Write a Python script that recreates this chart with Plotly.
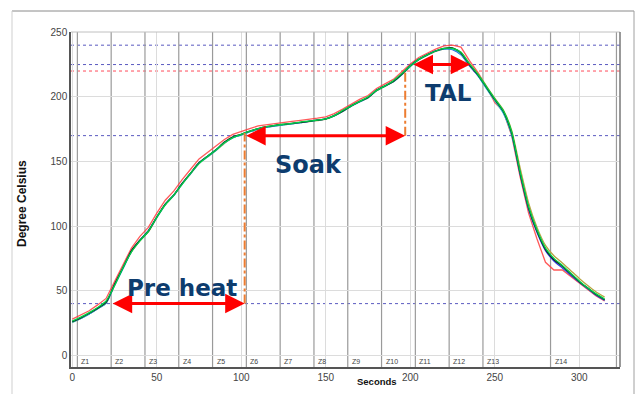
import plotly.graph_objects as go

# ---------------- data ----------------
seconds = [0, 5, 10, 15, 20, 25, 30, 35, 40, 45, 50, 55, 60, 65, 70, 75, 80, 85, 90, 95,
           100, 105, 110, 115, 120, 125, 130, 135, 140, 145, 150, 155, 160, 165, 170, 175,
           180, 185, 190, 195, 200, 205, 210, 215, 220, 225, 230, 235, 240, 245, 250, 255,
           260, 265, 270, 275, 280, 285, 290, 295, 300, 305, 310, 315]

tc_red = [28, 31, 34.5, 39, 44, 57, 70, 83, 92, 99, 110, 120, 127, 136, 144, 152, 157, 162, 167, 171,
          173.5, 175.5, 177.5, 178.5, 179.5, 180.3, 181, 181.8, 182.5, 183.5, 184.5, 187, 190.5, 194.5, 198, 201,
          206.5, 210, 213.5, 219.5, 225.5, 230.5, 234, 237, 239.5, 240, 238.5, 228, 219, 208, 195.5, 189,
          170, 138, 110, 90, 72, 66, 66, 61, 55.5, 50.5, 46, 42]
tc_olive = [25.5, 28.5, 32, 36, 40.5, 54, 67.5, 80, 88.5, 95.5, 106.5, 116.5, 123.5, 132.5, 140.5, 148.5, 153.5, 158.5, 164, 168.5,
            170.5, 173, 175, 176.5, 177.5, 178.3, 179.2, 180, 180.8, 181.7, 182.7, 185.2, 188.7, 192.7, 196.2, 199.2,
            204.7, 208.2, 211.7, 217.2, 223.5, 228.7, 232.2, 235.2, 237.2, 237.5, 234.5, 226, 218, 208.5, 199, 190,
            174, 145, 118, 99, 85, 77, 71.5, 65.5, 59.5, 54, 49, 45]
tc_blue = [26, 28.5, 32, 36, 40.5, 54.5, 67.5, 80.5, 89, 96.5, 107, 117, 124, 133, 141, 149, 154, 159, 164.5, 168.5,
           170.5, 173, 175, 176.5, 177.5, 178.5, 179.3, 180, 181, 182, 183, 185.5, 189, 193, 196, 199.5,
           205, 208.5, 212, 217.5, 224, 229, 232.5, 235.5, 237, 236.5, 232.5, 224, 216.5, 207, 197.5, 188,
           171, 140, 113, 95, 81, 73, 67.5, 62, 56.5, 51.5, 46.5, 42.5]
tc_cyan = [25.5, 28.5, 32, 36, 40.5, 54, 67, 80.5, 89, 96, 106.5, 116.5, 123.5, 132.5, 140.5, 148.5, 153.5, 158.5, 164.5, 168.5,
           170.5, 173, 175, 176.5, 177.5, 178.3, 179.2, 180, 181, 182, 183, 185.2, 188.8, 192.8, 196.2, 199.3,
           204.8, 208.3, 211.8, 217.2, 223.5, 228.8, 232.3, 235.3, 237.2, 237, 233, 224.5, 216.5, 206.5, 197, 187.5,
           170.5, 141, 114.5, 96.5, 82.5, 74.5, 69, 63, 57, 52, 47, 43]
tc_black = [26, 29, 32.5, 36.5, 41, 55, 68, 81, 89, 96, 107, 117, 124, 133, 141, 149, 154, 159, 165, 169,
            171, 173.5, 175.5, 177, 178, 178.7, 179.5, 180.3, 181, 182, 183, 185.5, 189, 193, 196.5, 199.5,
            205, 208.5, 212, 217.5, 224, 229, 232.5, 235.5, 237.5, 238, 234, 225, 217, 207.5, 198, 189,
            172, 141, 114, 96, 82, 74, 69, 63, 57, 52, 47, 43]
tc_green = [26.5, 29.5, 33, 37, 42, 54, 68, 80, 88.5, 96, 107, 116.5, 124, 132.5, 141, 148.5, 154, 159, 164.5, 168.5,
            171, 173.5, 175.5, 177, 178, 178.8, 179.5, 180.5, 181.2, 182, 183, 185.5, 189.5, 193, 196.5, 200,
            205, 208.5, 212.5, 218, 224, 229, 232.5, 235.5, 237.5, 237.5, 234.5, 225.5, 217.5, 208, 198.5, 189.5,
            173, 142, 115, 97, 83, 75, 69.5, 63.5, 57.5, 52, 47.5, 43.5]

zone_names = ["Z1", "Z2", "Z3", "Z4", "Z5", "Z6", "Z7", "Z8", "Z9", "Z10", "Z11", "Z12", "Z13", "Z14", ""]
zone_starts = [3, 23, 43, 63, 83, 103, 123, 143, 163, 183, 203, 223, 243, 283, 322]

limit_blue = [240, 225, 170, 40]
limit_red = [220]

xticks = [0, 50, 100, 150, 200, 250, 300]
yticks = [0, 50, 100, 150, 200, 250]

# phase arrows: (start, end, level)
preheat = (23, 102, 40)
soak = (102, 197, 170)
tal = (201, 235.5, 225)
# orange markers (x, y_low, y_high)
marker_preheat = (102, 40, 172)
marker_soak = (197, 170, 219)

labels = [("Pre heat", 65.0, 52.0, 23), ("Soak", 140.0, 147.0, 24), ("TAL", 222.5, 203.0, 23)]

series = [
    ("red", tc_red, "rgba(255,60,60,0.85)", "linear"),
    ("olive", tc_olive, "#B5A642", "spline"),
    ("blue", tc_blue, "#2A3FE0", "spline"),
    ("cyan", tc_cyan, "#1FC8C8", "spline"),
    ("black", tc_black, "#1A1A1A", "spline"),
    ("green", tc_green, "#00D046", "spline"),
]

for name, ys, _, _ in series:
    if len(ys) != len(seconds):
        raise ValueError(f"{name}: {len(ys)} vs {len(seconds)}")

XR = [-0.77, 324.1]
YR = [-9.06, 250.2]

fig = go.Figure()

for name, ys, col, shape in series:
    fig.add_trace(go.Scatter(x=seconds, y=ys, mode="lines", name=name,
                             line=dict(color=col, width=1.3, shape=shape, smoothing=0.6),
                             showlegend=False, hoverinfo="skip"))

shapes = []
# zone lines
for zx in zone_starts:
    shapes.append(dict(type="line", xref="x", yref="y", x0=zx, x1=zx, y0=YR[0], y1=YR[1],
                       line=dict(color="#9A9A9A", width=1.2), layer="below"))
# limit lines
for lv in limit_blue:
    shapes.append(dict(type="line", xref="paper", yref="y", x0=0, x1=1, y0=lv, y1=lv,
                       line=dict(color="#5A5AC0", width=1, dash="dot"), layer="below"))
for lv in limit_red:
    shapes.append(dict(type="line", xref="paper", yref="y", x0=0, x1=1, y0=lv, y1=lv,
                       line=dict(color="#FF4B5A", width=1, dash="dot"), layer="below"))
# orange markers
for mx, ylo, yhi in (marker_preheat, marker_soak):
    shapes.append(dict(type="line", xref="x", yref="y", x0=mx, x1=mx, y0=ylo, y1=yhi,
                       line=dict(color="#ED7D31", width=2, dash="dashdot"), layer="above"))
# plot frame top & right
shapes.append(dict(type="line", xref="paper", yref="paper", x0=0, x1=1, y0=1, y1=1,
                   line=dict(color="#C0C0C0", width=1)))
shapes.append(dict(type="line", xref="paper", yref="paper", x0=1, x1=1, y0=0, y1=1,
                   line=dict(color="#777777", width=1.5)))
# outer frame
ox0 = (12 - 71) / 549
ox1 = (634 - 71) / 549
oyt = (367 - 11) / 335
shapes.append(dict(type="line", xref="paper", yref="paper", x0=ox0, x1=ox1, y0=oyt, y1=oyt,
                   line=dict(color="#8A8A8A", width=1)))
shapes.append(dict(type="line", xref="paper", yref="paper", x0=ox0, x1=ox0, y0=oyt, y1=-0.2,
                   line=dict(color="#CFCFCF", width=1)))
shapes.append(dict(type="line", xref="paper", yref="paper", x0=ox1, x1=ox1, y0=oyt, y1=-0.2,
                   line=dict(color="#A0A0A0", width=1)))

annotations = []
# zone labels
for zn, zx in zip(zone_names, zone_starts):
    if zn:
        annotations.append(dict(x=zx, y=-5, xref="x", yref="y", text=zn, showarrow=False,
                                xanchor="left", yanchor="middle", xshift=2,
                                font=dict(family="Liberation Sans, Arial", size=7, color="#444444")))
# arrows
for x0, x1, lv in (preheat, soak, tal):
    annotations.append(dict(x=x1, y=lv, ax=x0, ay=lv, xref="x", yref="y", axref="x", ayref="y",
                            text="", showarrow=True, arrowhead=2, startarrowhead=2,
                            arrowside="end+start", arrowsize=1.3, startarrowsize=1.3,
                            arrowwidth=3, arrowcolor="#FF0000", standoff=0, startstandoff=0))
# phase labels
for txt, lx, ly, fs in labels:
    annotations.append(dict(x=lx, y=ly, xref="x", yref="y", text=txt, showarrow=False,
                            xanchor="center", yanchor="middle",
                            font=dict(family="DejaVu Sans", size=fs, color="#0D3C6E", weight="bold")))
# axis titles
annotations.append(dict(x=(22 - 71) / 549, y=(367 - 204) / 335, xref="paper", yref="paper",
                        text="<b>Degree Celsius</b>", textangle=-90, showarrow=False,
                        xanchor="center", yanchor="middle",
                        font=dict(family="Liberation Sans, Arial", size=12, color="#111111")))
annotations.append(dict(x=(377 - 71) / 549, y=(367 - 381) / 335, xref="paper", yref="paper",
                        text="<b>Seconds</b>", showarrow=False,
                        xanchor="center", yanchor="middle",
                        font=dict(family="Liberation Sans, Arial", size=9.5, color="#111111")))

fig.update_layout(
    width=640, height=394,
    margin=dict(l=71, r=20, t=32, b=27, pad=0),
    paper_bgcolor="white", plot_bgcolor="white",
    shapes=shapes, annotations=annotations,
    xaxis=dict(range=XR, tickvals=xticks, showgrid=True, gridcolor="#DCDCDC", gridwidth=1,
               zeroline=False, showline=True, linecolor="#555555", linewidth=1.5,
               ticks="", tickfont=dict(family="Liberation Sans, Arial", size=10, color="#444444")),
    yaxis=dict(range=YR, tickvals=yticks, showgrid=True, gridcolor="#DCDCDC", gridwidth=1,
               zeroline=False, showline=True, linecolor="#555555", linewidth=1.5,
               ticks="", tickfont=dict(family="Liberation Sans, Arial", size=10, color="#444444")),
)

fig.write_html("out.html")
